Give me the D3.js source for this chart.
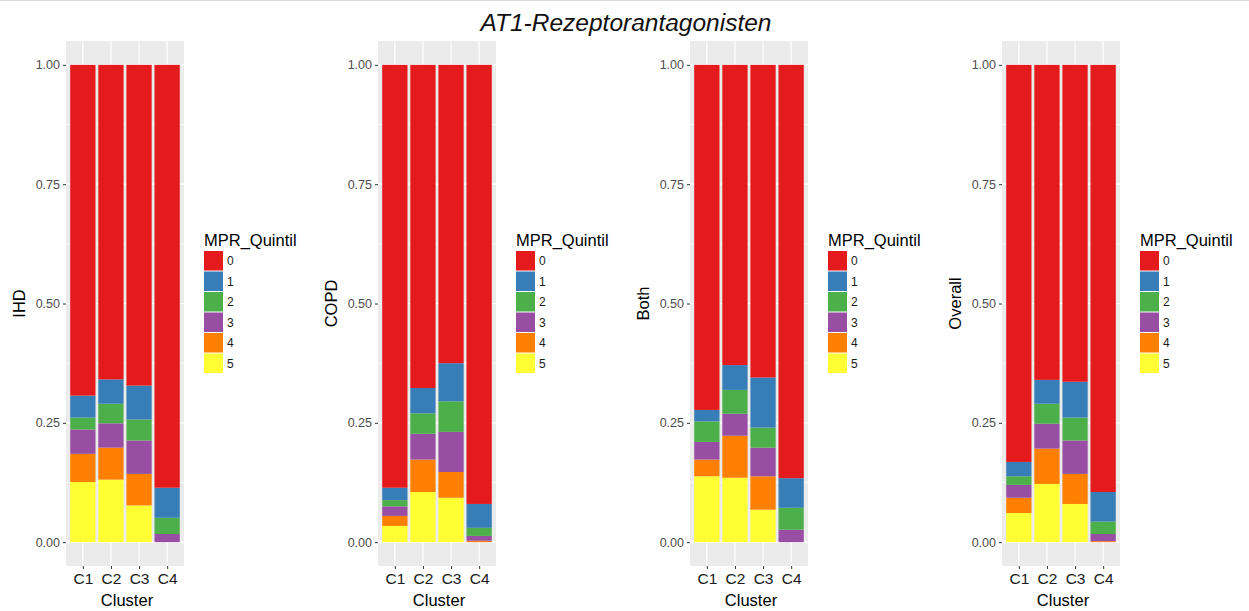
<!DOCTYPE html>
<html>
<head>
<meta charset="utf-8">
<script src="https://cdn.jsdelivr.net/npm/d3@7"></script>
<style>
  html, body { margin: 0; padding: 0; background: #fff; }
  svg { display: block; font-family: "Liberation Sans", Arial, sans-serif; }
</style>
</head>
<body>
<svg id="chart" width="1249" height="611"></svg>
<script>
// Share of patients per MPR quintile (0..5) in each cluster, one array per panel
const clusters = ["C1", "C2", "C3", "C4"];
const quintiles = ["0", "1", "2", "3", "4", "5"];
const panelNames = ["IHD", "COPD", "Both", "Overall"];
const yTicks = [0, 0.25, 0.5, 0.75, 1];
const yTickLabels = ["0.00", "0.25", "0.50", "0.75", "1.00"];

// rows: C1..C4, columns: quintile 0..5
const ihdShares = [
  [0.693, 0.046, 0.025, 0.051, 0.059, 0.126],
  [0.659, 0.051, 0.041, 0.051, 0.067, 0.131],
  [0.672, 0.071, 0.044, 0.070, 0.066, 0.077],
  [0.886, 0.063, 0.034, 0.017, 0.000, 0.000]
];
const copdShares = [
  [0.886, 0.026, 0.013, 0.020, 0.021, 0.034],
  [0.677, 0.053, 0.043, 0.054, 0.068, 0.105],
  [0.625, 0.080, 0.064, 0.084, 0.054, 0.093],
  [0.920, 0.050, 0.017, 0.010, 0.003, 0.000]
];
const bothShares = [
  [0.723, 0.024, 0.043, 0.037, 0.035, 0.138],
  [0.629, 0.052, 0.050, 0.046, 0.088, 0.135],
  [0.655, 0.105, 0.042, 0.060, 0.070, 0.068],
  [0.866, 0.062, 0.046, 0.026, 0.000, 0.000]
];
const overallShares = [
  [0.832, 0.030, 0.018, 0.027, 0.032, 0.061],
  [0.660, 0.050, 0.042, 0.052, 0.074, 0.122],
  [0.664, 0.075, 0.048, 0.070, 0.063, 0.080],
  [0.895, 0.062, 0.026, 0.015, 0.002, 0.000]
];
const panelShares = [ihdShares, copdShares, bothShares, overallShares];

const colors = ["#E41A1C", "#377EB8", "#4DAF4A", "#984EA3", "#FF7F00", "#FFFF33"];
const color = d3.scaleOrdinal().domain(quintiles).range(colors);

const svg = d3.select("#chart");

// thin rule along the top edge
svg.append("line").attr("x1", 0).attr("x2", 1249).attr("y1", 0.5).attr("y2", 0.5)
  .attr("stroke", "#d9d9d9").attr("stroke-width", 1);

svg.append("text")
  .attr("x", 626).attr("y", 31)
  .attr("text-anchor", "middle")
  .attr("font-size", 24.5).attr("font-style", "italic").attr("fill", "#111")
  .text("AT1-Rezeptorantagonisten");

const panelStep = 312;
const plotLeft = 66, plotWidth = 118, plotTop = 41, plotBottom = 566;

// y scale with ggplot-style 5% expansion
const y = d3.scaleLinear().domain([-0.05, 1.05]).range([plotBottom, plotTop]);

// discrete x with 0.6 unit padding on each side
const unit = plotWidth / (clusters.length - 1 + 1.2);
const x = d3.scalePoint().domain(clusters)
  .range([unit * 0.6, plotWidth - unit * 0.6]);
const barW = unit * 0.9;

const stack = d3.stack().keys(quintiles.slice().reverse());

panelNames.forEach((name, p) => {
  const ox = p * panelStep;
  const g = svg.append("g").attr("transform", `translate(${ox + plotLeft},0)`);

  // panel background
  g.append("rect").attr("x", 0).attr("y", plotTop)
    .attr("width", plotWidth).attr("height", plotBottom - plotTop)
    .attr("fill", "#EBEBEB");

  // minor horizontal grid
  const minor = [0.125, 0.375, 0.625, 0.875];
  g.selectAll(".minor").data(minor).join("line")
    .attr("x1", 0).attr("x2", plotWidth)
    .attr("y1", d => y(d)).attr("y2", d => y(d))
    .attr("stroke", "#fff").attr("stroke-width", 0.6);
  // major grid
  g.selectAll(".majorY").data(yTicks).join("line")
    .attr("x1", 0).attr("x2", plotWidth)
    .attr("y1", d => y(d)).attr("y2", d => y(d))
    .attr("stroke", "#fff").attr("stroke-width", 1.2);
  g.selectAll(".majorX").data(clusters).join("line")
    .attr("x1", d => x(d)).attr("x2", d => x(d))
    .attr("y1", plotTop).attr("y2", plotBottom)
    .attr("stroke", "#fff").attr("stroke-width", 1.2);

  // stacked bars
  const rows = panelShares[p].map((r, i) => {
    const o = { cluster: clusters[i] };
    quintiles.forEach((q, j) => { o[q] = r[j]; });
    return o;
  });
  const series = stack(rows);
  g.selectAll(".layer").data(series).join("g")
    .attr("fill", s => color(s.key))
    .selectAll("rect").data(s => s).join("rect")
    .attr("x", d => x(d.data.cluster) - barW / 2)
    .attr("width", barW)
    .attr("y", d => y(d[1]))
    .attr("height", d => Math.max(0, y(d[0]) - y(d[1])));

  // y axis
  const yAxis = d3.axisLeft(y).tickValues(yTicks)
    .tickFormat((d, i) => yTickLabels[i]).tickSize(3).tickPadding(3);
  const ya = g.append("g").call(yAxis);
  ya.select(".domain").remove();
  ya.selectAll(".tick line").attr("stroke", "#333");
  ya.selectAll(".tick text").attr("fill", "#4D4D4D").attr("font-size", 12.5)
    .attr("font-family", "Liberation Sans, Arial, sans-serif");

  // x axis
  const xAxis = d3.axisBottom(x).tickSize(3).tickPadding(4);
  const xa = g.append("g").attr("transform", `translate(0,${plotBottom})`).call(xAxis);
  xa.select(".domain").remove();
  xa.selectAll(".tick line").attr("stroke", "#333");
  xa.selectAll(".tick text").attr("fill", "#1a1a1a").attr("font-size", 15.5)
    .attr("font-family", "Liberation Sans, Arial, sans-serif");

  // axis titles
  g.append("text")
    .attr("x", plotWidth / 2 + 2).attr("y", 606)
    .attr("text-anchor", "middle").attr("font-size", 16.5).attr("fill", "#000")
    .text("Cluster");
  svg.append("text")
    .attr("transform", `translate(${ox + 25},${(plotTop + plotBottom) / 2}) rotate(-90)`)
    .attr("text-anchor", "middle").attr("font-size", 16.5).attr("fill", "#000")
    .text(name);

  // legend
  const lg = svg.append("g").attr("transform", `translate(${ox + 204},0)`);
  lg.append("text").attr("x", 0).attr("y", 246)
    .attr("font-size", 16.5).attr("fill", "#000").text("MPR_Quintil");
  quintiles.forEach((q, i) => {
    const top = 251 + i * 20.5;
    lg.append("rect").attr("x", 0).attr("y", top)
      .attr("width", 19).attr("height", 19.5)
      .attr("fill", color(q));
    lg.append("text").attr("x", 23).attr("y", top + 10)
      .attr("dy", "0.35em").attr("font-size", 12).attr("fill", "#1a1a1a")
      .text(q);
  });
});
</script>
</body>
</html>
